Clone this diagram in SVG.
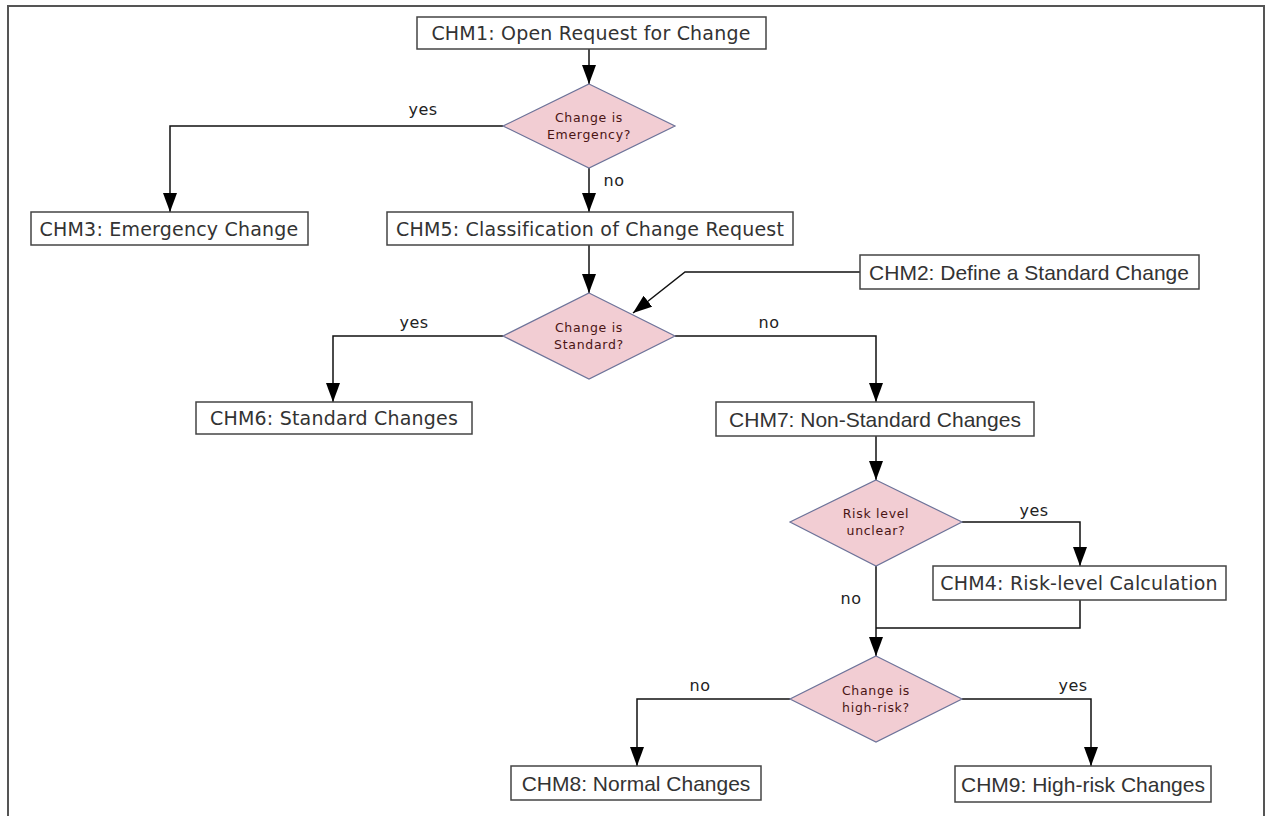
<svg xmlns="http://www.w3.org/2000/svg" width="1270" height="816" viewBox="0 0 1270 816">
<style>
.box{fill:#fff;stroke:#444;stroke-width:1.5}
.dia{fill:#f2cdd3;stroke:#6d7399;stroke-width:1.2}
.t{font-family:"DejaVu Sans",sans-serif;font-size:19px;fill:#333;text-anchor:middle;letter-spacing:0.2px}
.tn{font-family:"Liberation Sans Narrow","Liberation Sans",sans-serif;font-size:21px;fill:#333;text-anchor:middle}
.dt{font-family:"DejaVu Sans",sans-serif;font-size:12.5px;fill:#4a1414;text-anchor:middle;letter-spacing:0.7px}
.lbl{font-family:"DejaVu Sans",sans-serif;font-size:16px;fill:#222;text-anchor:middle;letter-spacing:0.5px}
.ln{fill:none;stroke:#111;stroke-width:1.5}
</style>
<defs>
<marker id="ah" viewBox="0 0 19 14" refX="19" refY="7" markerWidth="19" markerHeight="14" markerUnits="userSpaceOnUse" orient="auto">
<path d="M0,0 L19,7 L0,14 Z" fill="#000"/>
</marker>
</defs>
<rect x="0" y="0" width="1270" height="816" fill="#fff"/>
<path d="M8,816 V6 H1264 V816" fill="none" stroke="#555" stroke-width="2"/>
<g id="connectors">
<path class="ln" d="M589,49 V84" marker-end="url(#ah)"/>
<path class="ln" d="M503,126 H170 V212" marker-end="url(#ah)"/>
<path class="ln" d="M589,168 V212" marker-end="url(#ah)"/>
<path class="ln" d="M589,245 V293" marker-end="url(#ah)"/>
<path class="ln" d="M860,272 H685 L633,313" marker-end="url(#ah)"/>
<path class="ln" d="M503,336 H333 V402" marker-end="url(#ah)"/>
<path class="ln" d="M675,336 H876 V402" marker-end="url(#ah)"/>
<path class="ln" d="M876,436 V480" marker-end="url(#ah)"/>
<path class="ln" d="M962,522 H1080 V566" marker-end="url(#ah)"/>
<path class="ln" d="M1080,600 V628 H876"/>
<path class="ln" d="M876,566 V656" marker-end="url(#ah)"/>
<path class="ln" d="M790,699 H637 V766" marker-end="url(#ah)"/>
<path class="ln" d="M962,699 H1091 V766" marker-end="url(#ah)"/>
<text class="lbl" x="423" y="115">yes</text>
<text class="lbl" x="614" y="186">no</text>
<text class="lbl" x="414" y="328">yes</text>
<text class="lbl" x="769" y="328">no</text>
<text class="lbl" x="1034" y="516">yes</text>
<text class="lbl" x="851" y="604">no</text>
<text class="lbl" x="700" y="691">no</text>
<text class="lbl" x="1073" y="691">yes</text>
</g>
<g id="chm1"><rect class="box" x="417" y="17" width="349" height="32"/><text class="t" x="591" y="40">CHM1: Open Request for Change</text></g>
<g id="d-emergency"><polygon class="dia" points="589,84 675,126 589,168 503,126"/><text class="dt" x="589" y="122">Change is</text><text class="dt" x="589" y="139">Emergency?</text></g>
<g id="chm3"><rect class="box" x="31" y="212" width="277" height="33"/><text class="t" x="169" y="236">CHM3: Emergency Change</text></g>
<g id="chm5"><rect class="box" x="387" y="212" width="406" height="33"/><text class="t" x="590" y="236">CHM5: Classification of Change Request</text></g>
<g id="chm2"><rect class="box" x="860" y="255" width="339" height="34"/><text class="tn" x="1029" y="280">CHM2: Define a Standard Change</text></g>
<g id="d-standard"><polygon class="dia" points="589,293 675,336 589,379 503,336"/><text class="dt" x="589" y="332">Change is</text><text class="dt" x="589" y="349">Standard?</text></g>
<g id="chm6"><rect class="box" x="196" y="402" width="276" height="32"/><text class="t" x="334" y="425">CHM6: Standard Changes</text></g>
<g id="chm7"><rect class="box" x="716" y="402" width="318" height="34"/><text class="tn" x="875" y="427">CHM7: Non-Standard Changes</text></g>
<g id="d-risk"><polygon class="dia" points="876,480 962,522 876,566 790,522"/><text class="dt" x="876" y="518">Risk level</text><text class="dt" x="876" y="535">unclear?</text></g>
<g id="chm4"><rect class="box" x="933" y="566" width="293" height="34"/><text class="t" x="1079" y="590">CHM4: Risk-level Calculation</text></g>
<g id="d-highrisk"><polygon class="dia" points="876,656 962,699 876,742 790,699"/><text class="dt" x="876" y="695">Change is</text><text class="dt" x="876" y="712">high-risk?</text></g>
<g id="chm8"><rect class="box" x="511" y="766" width="250" height="34"/><text class="tn" x="636" y="791">CHM8: Normal Changes</text></g>
<g id="chm9"><rect class="box" x="955" y="766" width="256" height="36"/><text class="tn" x="1083" y="792">CHM9: High-risk Changes</text></g>
</svg>
